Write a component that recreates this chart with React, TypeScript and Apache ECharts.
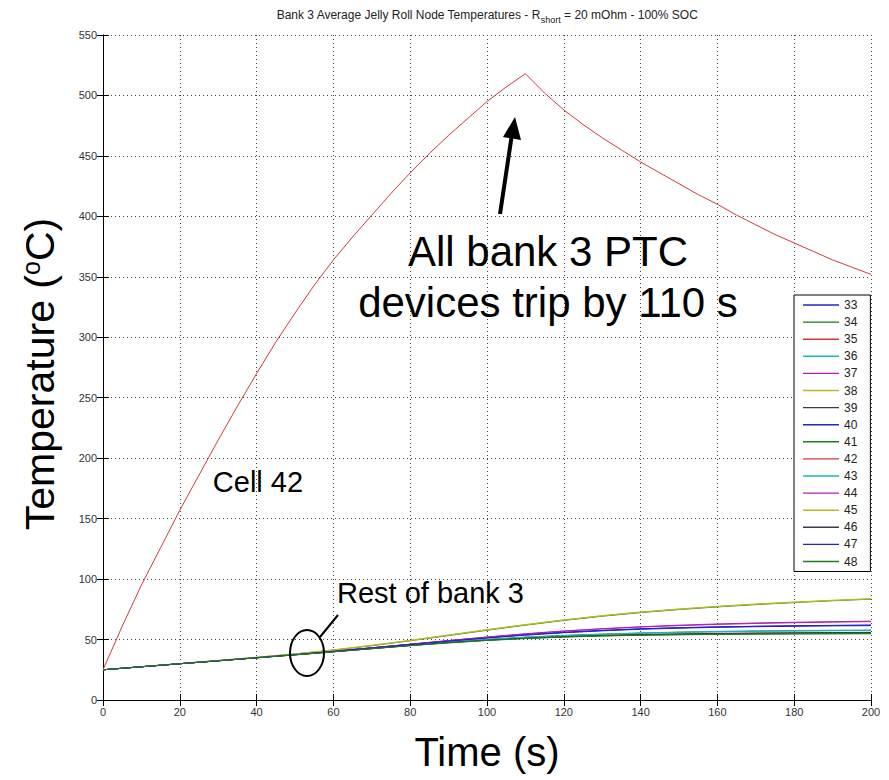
import React, { useEffect, useRef } from 'react';
import * as echarts from 'echarts';

const cellNames = ['33', '34', '35', '36', '37', '38', '39', '40', '41', '42', '43', '44', '45', '46', '47', '48'];
const palette = ['#2424c8', '#1a7d1a', '#d23a3a', '#1fb6b6', '#b01fb0', '#b9b923', '#3c3c3c'];

const xTicks = [0, 200, 20];
const yTicks = [0, 550, 50];

const timeRed = [0, 5, 10, 15, 20, 25, 30, 35, 40, 45, 50, 55, 60, 65, 70, 75, 80, 85, 90, 95, 100, 105, 110,
  115, 120, 125, 130, 135, 140, 145, 150, 155, 160, 165, 170, 175, 180, 185, 190, 195, 200];
const cell42 = [25, 61, 95, 126, 157, 186, 215, 243, 270, 296, 320, 343, 364, 383, 401, 419, 436, 452, 467, 481, 495, 507, 518,
  502, 488, 476, 465, 455, 445, 436, 427, 418, 410, 401, 393, 385, 378, 371, 364, 358, 352];

const timeBank = [0, 10, 20, 30, 40, 50, 60, 70, 80, 90, 100, 110, 120, 130, 140, 150, 160, 170, 180, 190, 200];
const cell33 = [25, 27.5, 30.0, 32.5, 35.0, 37.6, 40.3, 43.1, 46.0, 48.9, 51.6, 54.0, 56.0, 57.6, 58.9, 59.8, 60.5, 61.0, 61.4, 61.7, 62.0];
const cell34 = [25, 27.5, 30.0, 32.6, 35.2, 38.0, 41.2, 44.9, 49.0, 53.3, 57.7, 61.9, 65.8, 69.3, 72.3, 74.8, 77.0, 78.9, 80.6, 82.1, 83.4];
const cell35 = [25, 27.5, 30.0, 32.5, 35.0, 37.5, 40.1, 42.8, 45.4, 47.9, 50.1, 51.9, 53.3, 54.4, 55.3, 56.0, 56.5, 56.9, 57.2, 57.4, 57.6];
const cell36 = [25, 27.5, 30.0, 32.5, 35.0, 37.5, 40.1, 42.8, 45.5, 48.0, 50.2, 52.0, 53.5, 54.6, 55.5, 56.2, 56.8, 57.2, 57.5, 57.7, 57.9];
const cell37 = [25, 27.5, 30.0, 32.5, 35.0, 37.6, 40.3, 43.2, 46.2, 49.2, 52.1, 54.8, 57.1, 59.0, 60.6, 61.9, 62.9, 63.7, 64.3, 64.8, 65.2];
const cell38 = [25, 27.6, 30.2, 32.8, 35.4, 38.2, 41.5, 45.3, 49.4, 53.8, 58.2, 62.4, 66.3, 69.8, 72.8, 75.3, 77.5, 79.4, 81.0, 82.5, 83.8];
const cell39 = [25, 27.5, 30.0, 32.4, 34.9, 37.4, 40.0, 42.6, 45.2, 47.6, 49.7, 51.3, 52.6, 53.5, 54.2, 54.7, 55.1, 55.4, 55.6, 55.8, 56.0];
const cell40 = [25, 27.5, 30.0, 32.5, 35.0, 37.6, 40.3, 43.1, 46.0, 48.8, 51.5, 53.9, 55.9, 57.5, 58.8, 59.7, 60.4, 60.9, 61.3, 61.6, 61.8];
const cell41 = [25, 27.5, 30.0, 32.4, 34.9, 37.3, 39.9, 42.5, 45.0, 47.4, 49.4, 51.0, 52.2, 53.1, 53.7, 54.1, 54.4, 54.6, 54.8, 54.9, 55.0];
const cell43 = [25, 27.5, 30.0, 32.5, 35.0, 37.5, 40.1, 42.7, 45.4, 47.9, 50.0, 51.8, 53.2, 54.3, 55.2, 55.9, 56.4, 56.8, 57.1, 57.3, 57.5];
const cell44 = [25, 27.5, 30.0, 32.5, 35.0, 37.6, 40.3, 43.2, 46.1, 49.1, 52.0, 54.6, 56.9, 58.8, 60.3, 61.5, 62.5, 63.3, 63.9, 64.4, 64.8];
const cell45 = [25, 27.6, 30.1, 32.7, 35.3, 38.1, 41.3, 45.1, 49.2, 53.6, 58.0, 62.2, 66.1, 69.6, 72.6, 75.1, 77.3, 79.2, 80.8, 82.3, 83.6];
const cell46 = [25, 27.5, 30.0, 32.4, 34.9, 37.4, 39.9, 42.5, 45.1, 47.5, 49.5, 51.1, 52.4, 53.3, 54.0, 54.5, 54.9, 55.2, 55.4, 55.6, 55.8];
const cell47 = [25, 27.5, 30.0, 32.5, 35.0, 37.6, 40.2, 43.0, 45.9, 48.7, 51.3, 53.6, 55.6, 57.2, 58.5, 59.4, 60.1, 60.6, 61.0, 61.3, 61.5];
const cell48 = [25, 27.5, 30.0, 32.4, 34.9, 37.3, 39.8, 42.4, 44.9, 47.2, 49.2, 50.8, 52.0, 52.9, 53.5, 53.9, 54.2, 54.4, 54.6, 54.7, 54.8];

const bankValues: Record<string, number[]> = {
  '33': cell33, '34': cell34, '35': cell35, '36': cell36, '37': cell37, '38': cell38, '39': cell39, '40': cell40,
  '41': cell41, '43': cell43, '44': cell44, '45': cell45, '46': cell46, '47': cell47, '48': cell48,
};

const FONT = '"Liberation Sans", Arial, sans-serif';

export default function App() {
  const ref = useRef<HTMLDivElement>(null);
  useEffect(() => {
    document.body.style.margin = '0';
    if (!ref.current) return;
    const chart = echarts.init(ref.current, null, { renderer: 'svg' });

    const series: any[] = cellNames.map((name, i) => {
      const isRed = name === '42';
      const xs = isRed ? timeRed : timeBank;
      const ys = isRed ? cell42 : bankValues[name];
      return {
        name,
        type: 'line',
        symbol: 'none',
        showSymbol: false,
        data: xs.map((t, k) => [t, ys[k]]),
        lineStyle: { width: 1, color: palette[i % 7] },
        itemStyle: { color: palette[i % 7] },
        z: isRed ? 3 : 2,
      };
    });

    const axisCommon = {
      axisLine: { show: true, lineStyle: { color: '#000', width: 1 } },
      axisTick: { show: true, inside: true, length: 6, lineStyle: { color: '#000' } },
    };

    const option: any = {
      animation: false,
      backgroundColor: '#fff',
      grid: { left: 103, right: 18, top: 35, bottom: 80, containLabel: false },
      legend: {
        orient: 'vertical',
        left: 794,
        top: 295,
        icon: 'rect',
        itemWidth: 36,
        itemHeight: 1.4,
        itemGap: 5.1,
        padding: [4, 13, 4, 9],
        backgroundColor: '#fff',
        borderColor: '#000',
        borderWidth: 1,
        borderRadius: 0,
        textStyle: { fontFamily: FONT, fontSize: 12, color: '#222' },
        data: cellNames,
        selectedMode: false,
        z: 10,
      },
      xAxis: [
        {
          type: 'value', min: xTicks[0], max: xTicks[1], interval: xTicks[2], position: 'bottom',
          ...axisCommon,
          axisLabel: { fontFamily: FONT, fontSize: 11, color: '#333', margin: 6 },
          splitLine: { show: true, lineStyle: { type: [1, 3], color: '#444', width: 1 } },
        },
        {
          type: 'value', min: xTicks[0], max: xTicks[1], interval: xTicks[2], position: 'top',
          ...axisCommon,
          axisLabel: { show: false },
          splitLine: { show: false },
        },
      ],
      yAxis: [
        {
          type: 'value', min: yTicks[0], max: yTicks[1], interval: yTicks[2], position: 'left',
          ...axisCommon,
          axisLabel: { fontFamily: FONT, fontSize: 11, color: '#333', margin: 6 },
          splitLine: { show: true, lineStyle: { type: [1, 3], color: '#444', width: 1 } },
        },
        {
          type: 'value', min: yTicks[0], max: yTicks[1], interval: yTicks[2], position: 'right',
          ...axisCommon,
          axisLabel: { show: false },
          splitLine: { show: false },
        },
      ],
      series,
      graphic: [
        {
          type: 'text', x: 487, y: 15, z: 20,
          style: {
            text: '{a|Bank 3 Average Jelly Roll Node Temperatures - R}{s|short}{a| = 20 mOhm - 100% SOC}',
            align: 'center', verticalAlign: 'middle', fill: '#222',
            rich: {
              a: { fontFamily: FONT, fontSize: 12, fill: '#222' },
              s: { fontFamily: FONT, fontSize: 9, fill: '#222', padding: [10, 0, 0, 0] },
            },
          },
        },
        {
          type: 'text', x: 40, y: 374, rotation: Math.PI / 2, z: 20,
          style: {
            text: '{a|Temperature (}{o|o}{a|C)}',
            align: 'center', verticalAlign: 'middle', fill: '#000',
            rich: {
              a: { fontFamily: FONT, fontSize: 41, fill: '#000' },
              o: { fontFamily: FONT, fontSize: 25, fill: '#000', padding: [0, 0, 18, 0] },
            },
          },
        },
        {
          type: 'text', x: 487, y: 752, z: 20,
          style: { text: 'Time (s)', font: `40px ${FONT}`, fill: '#000', align: 'center', verticalAlign: 'middle' },
        },
        {
          type: 'text', x: 548, y: 251, z: 20,
          style: { text: 'All bank 3 PTC', font: `42px ${FONT}`, fill: '#000', align: 'center', verticalAlign: 'middle' },
        },
        {
          type: 'text', x: 548, y: 302, z: 20,
          style: { text: 'devices trip by 110 s', font: `42px ${FONT}`, fill: '#000', align: 'center', verticalAlign: 'middle' },
        },
        {
          type: 'line', z: 20,
          shape: { x1: 500, y1: 214, x2: 512, y2: 134 },
          style: { stroke: '#000', lineWidth: 4 },
        },
        {
          type: 'polygon', z: 20,
          shape: { points: [[515, 117], [521, 140], [503, 137]] },
          style: { fill: '#000' },
        },
        {
          type: 'text', x: 258, y: 482, z: 20,
          style: { text: 'Cell 42', font: `29px ${FONT}`, fill: '#000', align: 'center', verticalAlign: 'middle' },
        },
        {
          type: 'text', x: 337, y: 593, z: 20,
          style: { text: 'Rest of bank 3', font: `29px ${FONT}`, fill: '#000', align: 'left', verticalAlign: 'middle' },
        },
        {
          type: 'ellipse', z: 20,
          shape: { cx: 307, cy: 653, rx: 17, ry: 23 },
          style: { fill: 'none', stroke: '#000', lineWidth: 2 },
        },
        {
          type: 'line', z: 20,
          shape: { x1: 320, y1: 637, x2: 338, y2: 615 },
          style: { stroke: '#000', lineWidth: 2 },
        },
      ],
    };
    chart.setOption(option);
    return () => chart.dispose();
  }, []);
  return <div ref={ref} style={{ width: 889, height: 780 }} />;
}
